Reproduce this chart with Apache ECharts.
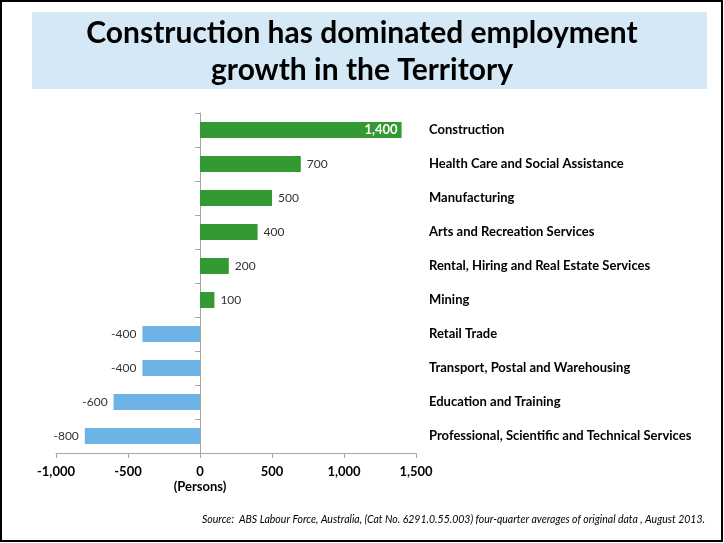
<!DOCTYPE html>
<html>
<head>
<meta charset="utf-8">
<script src="https://cdn.jsdelivr.net/npm/echarts@6/dist/echarts.min.js"></script>
<style>
  html, body { margin: 0; padding: 0; background: #fff; }
  #main { width: 724px; height: 543px; }
</style>
</head>
<body>
<div id="main"></div>
<script>
// industries, top to bottom
const industries = [
  'Construction',
  'Health Care and Social Assistance',
  'Manufacturing',
  'Arts and Recreation Services',
  'Rental, Hiring and Real Estate Services',
  'Mining',
  'Retail Trade',
  'Transport, Postal and Warehousing',
  'Education and Training',
  'Professional, Scientific and Technical Services'
]
// change in employment (persons)
const change = [1400, 700, 500, 400, 200, 100, -400, -400, -600, -800]
const xTicks = [-1000, -500, 0, 500, 1000, 1500]

const FONT = 'Lato, "Open Sans", sans-serif'
const GREEN = '#339933'
const BLUE = '#6db3e6'

const chart = echarts.init(document.getElementById('main'))

const barData = change.map((v, i) => {
  const item = {
    value: v,
    itemStyle: { color: v >= 0 ? GREEN : BLUE }
  }
  if (i === 0) {
    // biggest bar: label sits inside, white and bold
    item.label = {
      position: 'insideRight',
      distance: 4,
      color: '#fff',
      fontWeight: 'bold',
      fontSize: 13
    }
  } else {
    item.label = { position: v >= 0 ? 'right' : 'left' }
  }
  return item
})

chart.setOption({
  animation: false,
  textStyle: { fontFamily: FONT },
  graphic: [
    {
      type: 'rect',
      shape: { x: 1, y: 1, width: 721, height: 540 },
      style: { fill: 'none', stroke: '#000', lineWidth: 2 },
      z: 0
    },
    {
      type: 'rect',
      shape: { x: 32, y: 12, width: 675, height: 77 },
      style: { fill: '#d5e8f5' },
      z: 0
    },
    {
      type: 'text',
      x: 362,
      y: 33,
      style: {
        text: 'Construction has dominated employment',
        font: 'bold 30px ' + FONT,
        fill: '#000',
        align: 'center',
        verticalAlign: 'middle'
      }
    },
    {
      type: 'text',
      x: 362,
      y: 70,
      style: {
        text: 'growth in the Territory',
        font: 'bold 30px ' + FONT,
        fill: '#000',
        align: 'center',
        verticalAlign: 'middle'
      }
    },
    {
      type: 'text',
      right: 19,
      top: 514,
      style: {
        text: 'Source:  ABS Labour Force, Australia, (Cat No. 6291.0.55.003) four-quarter averages of original data , August 2013.',
        font: 'italic 10.5px ' + FONT,
        fill: '#000'
      }
    }
  ],
  grid: {
    left: 56,
    right: 308,
    top: 113,
    bottom: 90
  },
  xAxis: {
    type: 'value',
    min: xTicks[0],
    max: xTicks[xTicks.length - 1],
    interval: 500,
    splitLine: { show: false },
    axisLine: { show: true, lineStyle: { color: '#a6a6a6', width: 1 } },
    axisTick: { show: true, length: 5, lineStyle: { color: '#a6a6a6' } },
    axisLabel: {
      color: '#000',
      fontWeight: 'bold',
      fontSize: 13,
      margin: 12,
      formatter: v => v.toLocaleString('en-US')
    }
  },
  yAxis: [
    {
      type: 'category',
      data: industries,
      inverse: true,
      axisLine: { show: true, onZero: true, lineStyle: { color: '#a6a6a6' } },
      axisTick: { show: true, length: 5, lineStyle: { color: '#a6a6a6' } },
      axisLabel: { show: false }
    },
    {
      type: 'category',
      data: industries,
      inverse: true,
      position: 'right',
      axisLine: { show: false },
      axisTick: { show: false },
      axisLabel: {
        color: '#000',
        fontWeight: 'bold',
        fontSize: 13,
        margin: 13,
        align: 'left'
      }
    }
  ],
  series: [
    {
      type: 'bar',
      yAxisIndex: 0,
      barWidth: 16,
      data: barData,
      label: {
        show: true,
        distance: 6,
        color: '#333',
        fontSize: 12,
        formatter: p => p.value.toLocaleString('en-US')
      }
    }
  ]
})

// "(Persons)" sits under the zero tick
const zeroX = chart.convertToPixel({ xAxisIndex: 0 }, 0)
chart.setOption({
  graphic: [
    {
      type: 'text',
      id: 'persons',
      x: zeroX,
      y: 487,
      style: {
        text: '(Persons)',
        font: 'bold 13px ' + FONT,
        fill: '#000',
        align: 'center',
        verticalAlign: 'middle'
      }
    }
  ]
})
</script>
</body>
</html>
